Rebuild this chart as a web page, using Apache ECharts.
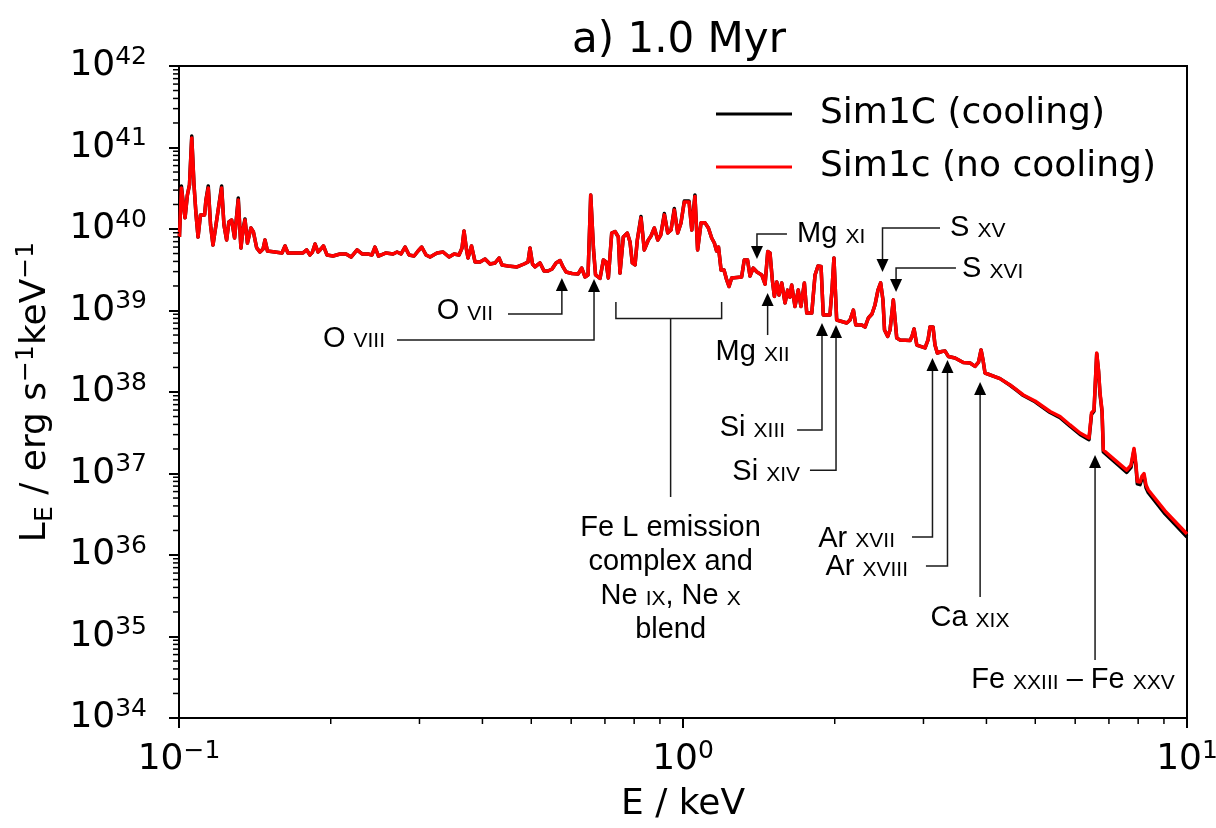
<!DOCTYPE html>
<html>
<head>
<meta charset="utf-8">
<title>a) 1.0 Myr</title>
<script src="https://cdn.jsdelivr.net/npm/echarts@6/dist/echarts.min.js"></script>
<style>
  html, body { margin: 0; padding: 0; background: #fff; }
  #chart { width: 1216px; height: 828px; }
</style>
</head>
<body>
<div id="chart"></div>
<script>
// Photon energy grid (keV)
const energyKeV = [
  0.1002,0.1011,0.1018,0.1028,0.1039,0.1049,0.1060,0.1071,0.1081,0.1091,
  0.1103,0.1124,0.1131,0.1143,0.1155,0.1168,0.1184,0.1200,0.1215,0.1228,
  0.1243,0.1256,0.1272,0.1289,0.1311,0.1327,0.1339,0.1352,0.1367,0.1389,
  0.1405,0.1426,0.1448,0.1468,0.1481,0.1498,0.1550,0.1601,0.1623,0.1645,
  0.1707,0.1762,0.1792,0.1819,0.1840,0.1862,0.1887,0.1905,0.1935,0.1966,
  0.2021,0.2087,0.2145,0.2195,0.2256,0.2308,0.2371,0.2415,0.2448,0.2488,
  0.2575,0.2659,0.2708,0.2758,0.2809,0.2861,0.2927,0.2981,0.3031,0.3092,
  0.3149,0.3251,0.3342,0.3434,0.3514,0.3594,0.3644,0.3677,0.3720,0.3745,
  0.3805,0.3867,0.3956,0.4048,0.4141,0.4237,0.4315,0.4375,0.4496,0.4685,
  0.4837,0.4926,0.4971,0.5028,0.5086,0.5204,0.5300,0.5398,0.5498,0.5599,
  0.5702,0.5781,0.5860,0.6023,0.6190,0.6296,0.6391,0.6480,0.6560,0.6645,
  0.6706,0.6845,0.6950,0.7036,0.7110,0.7221,0.7331,0.7442,0.7499,0.7613,
  0.7753,0.7850,0.7933,0.8031,0.8116,0.8254,0.8380,0.8535,0.8641,0.8772,
  0.8910,0.9033,0.9183,0.9325,0.9467,0.9610,0.9761,0.9909,1.006,1.028,
  1.041,1.056,1.069,1.086,1.106,1.123,1.140,1.154,1.166,1.176,
  1.190,1.206,1.221,1.234,1.249,1.307,1.323,1.343,1.358,1.378,
  1.402,1.433,1.455,1.473,1.488,1.504,1.518,1.535,1.550,1.570,
  1.594,1.613,1.630,1.643,1.668,1.693,1.714,1.741,1.760,1.801,
  1.828,1.853,1.879,1.898,1.957,1.975,1.993,2.018,2.065,2.113,
  2.145,2.178,2.202,2.263,2.297,2.332,2.371,2.404,2.437,2.467,
  2.493,2.511,2.548,2.575,2.614,2.655,2.696,2.822,2.848,2.874,
  2.910,3.022,3.063,3.091,3.134,3.162,3.196,3.261,3.311,3.361,
  3.465,3.599,3.711,3.797,3.858,3.903,3.938,3.974,4.256,4.455,
  4.593,4.734,4.994,5.349,5.599,5.860,6.134,6.391,6.465,6.539,
  6.620,6.675,6.721,6.783,6.823,7.197,7.592,7.743,7.850,7.922,
  7.969,8.068,8.142,8.217,8.292,8.380,9.044,10.0
];

// L_E (erg s^-1 keV^-1), run with radiative cooling
const lumCooling = [
  7.98e39,3.38e40,2.27e40,1.37e40,2.61e40,3.47e40,1.38e41,3.47e40,1.49e40,7.98e39,
  1.49e40,1.49e40,2.27e40,3.38e40,1.12e40,6.36e39,1.12e40,1.97e40,3.38e40,1.12e40,
  7.33e39,1.22e40,1.29e40,7.75e39,2.40e40,5.85e39,9.72e39,1.33e40,6.73e39,1.03e40,
  9.19e39,5.85e39,5.22e39,5.68e39,7.33e39,5.37e39,5.22e39,5.08e39,6.19e39,5.08e39,
  5.08e39,5.08e39,5.53e39,4.80e39,5.22e39,6.55e39,5.22e39,5.53e39,6.19e39,4.80e39,
  4.66e39,4.94e39,4.94e39,4.53e39,5.53e39,4.94e39,4.94e39,4.80e39,6.01e39,4.66e39,
  5.08e39,4.94e39,5.22e39,4.94e39,6.01e39,4.80e39,4.66e39,5.37e39,6.01e39,4.80e39,
  4.53e39,5.08e39,5.22e39,4.53e39,4.94e39,4.80e39,5.85e39,9.45e39,5.53e39,4.41e39,
  6.19e39,3.94e39,3.94e39,4.28e39,3.72e39,3.83e39,4.41e39,3.62e39,3.52e39,3.42e39,
  3.72e39,3.94e39,5.85e39,3.72e39,3.42e39,3.83e39,3.05e39,3.05e39,3.23e39,3.83e39,
  4.11e39,3.42e39,2.97e39,2.84e39,2.80e39,3.32e39,2.58e39,2.73e39,2.61e40,5.53e39,
  2.73e39,2.47e39,4.17e39,3.94e39,2.51e39,8.93e39,9.32e39,7.98e39,2.88e39,7.98e39,
  8.93e39,6.93e39,3.83e39,3.62e39,7.33e39,1.42e40,5.53e39,7.33e39,8.20e39,1.03e40,
  7.33e39,8.44e39,1.55e40,8.93e39,9.72e39,1.78e40,8.93e39,1.19e40,2.20e40,2.20e40,
  9.72e39,2.62e40,5.53e39,1.19e40,1.19e40,1.03e40,7.75e39,6.73e39,5.37e39,6.01e39,
  3.14e39,3.14e39,2.37e39,1.97e39,2.51e39,2.58e39,4.17e39,4.17e39,2.65e39,3.32e39,
  2.97e39,2.73e39,2.11e39,5.30e39,5.08e39,2.37e39,1.49e39,2.24e39,1.55e39,2.18e39,
  1.24e39,1.78e39,1.46e39,2.06e39,1.12e39,1.78e39,1.12e39,2.18e39,9.32e38,9.32e38,
  2.73e39,3.52e39,3.47e39,8.81e38,8.81e38,1.78e39,4.41e39,7.64e38,7.33e38,7.03e38,
  7.64e38,1.01e39,6.64e38,6.64e38,6.27e38,8.09e38,9.06e38,1.17e39,1.78e39,2.18e39,
  1.35e39,5.76e38,4.80e38,5.76e38,1.35e39,4.60e38,4.35e38,4.28e38,4.87e38,5.93e38,
  3.77e38,3.47e38,4.35e38,6.27e38,6.27e38,3.77e38,3.01e38,3.14e38,3.18e38,2.73e38,
  2.61e38,2.30e38,2.27e38,2.06e38,2.33e38,3.28e38,2.47e38,1.71e38,1.46e38,1.21e38,
  1.05e38,9.05e37,7.60e37,5.60e37,4.85e37,3.80e37,3.02e37,2.60e37,5.30e37,5.80e37,
  2.95e38,1.80e38,9.30e37,5.75e37,1.84e37,1.38e37,1.03e37,1.19e37,1.95e37,1.19e37,
  7.45e36,7.30e36,8.70e36,9.35e36,6.70e36,5.80e36,3.20e36,1.66e36
];

// L_E (erg s^-1 keV^-1), run without cooling
const lumNoCooling = [
  7.98e39,3.18e40,2.27e40,1.37e40,2.61e40,3.47e40,1.31e41,3.47e40,1.49e40,7.98e39,
  1.49e40,1.49e40,2.27e40,3.18e40,1.12e40,6.36e39,1.12e40,1.97e40,3.18e40,1.12e40,
  7.33e39,1.22e40,1.29e40,7.75e39,2.27e40,5.85e39,9.72e39,1.29e40,6.73e39,1.03e40,
  9.19e39,5.85e39,5.22e39,5.68e39,7.33e39,5.37e39,5.22e39,5.08e39,6.19e39,5.08e39,
  5.08e39,5.08e39,5.53e39,4.80e39,5.22e39,6.55e39,5.22e39,5.53e39,6.19e39,4.80e39,
  4.66e39,4.94e39,4.94e39,4.53e39,5.53e39,4.94e39,4.94e39,4.80e39,6.01e39,4.66e39,
  5.08e39,4.94e39,5.22e39,4.94e39,6.01e39,4.80e39,4.66e39,5.37e39,6.01e39,4.80e39,
  4.53e39,5.08e39,5.22e39,4.53e39,4.94e39,4.80e39,5.85e39,9.45e39,5.53e39,4.41e39,
  6.19e39,3.94e39,3.94e39,4.28e39,3.72e39,3.83e39,4.41e39,3.62e39,3.52e39,3.42e39,
  3.72e39,3.94e39,5.85e39,3.72e39,3.42e39,3.83e39,3.05e39,3.05e39,3.23e39,3.83e39,
  4.11e39,3.42e39,2.97e39,2.84e39,2.80e39,3.32e39,2.58e39,2.73e39,2.61e40,5.53e39,
  2.73e39,2.47e39,4.17e39,3.94e39,2.51e39,8.93e39,9.32e39,7.98e39,2.88e39,7.98e39,
  8.93e39,6.93e39,3.83e39,3.62e39,7.33e39,1.37e40,5.53e39,7.33e39,8.20e39,1.03e40,
  7.33e39,8.44e39,1.49e40,8.93e39,9.72e39,1.71e40,8.93e39,1.19e40,2.14e40,2.14e40,
  9.72e39,2.51e40,5.53e39,1.19e40,1.19e40,1.03e40,7.75e39,6.73e39,5.37e39,6.01e39,
  3.14e39,3.14e39,2.37e39,1.97e39,2.51e39,2.58e39,4.17e39,4.17e39,2.65e39,3.32e39,
  2.97e39,2.73e39,2.11e39,5.30e39,5.08e39,2.37e39,1.49e39,2.24e39,1.55e39,2.18e39,
  1.24e39,1.78e39,1.46e39,2.06e39,1.12e39,1.78e39,1.12e39,2.18e39,9.32e38,9.32e38,
  2.73e39,3.52e39,3.47e39,8.81e38,8.81e38,1.78e39,4.41e39,7.64e38,7.33e38,7.03e38,
  7.64e38,1.01e39,6.64e38,6.64e38,6.27e38,8.09e38,9.06e38,1.17e39,1.78e39,2.18e39,
  1.35e39,5.76e38,4.80e38,5.76e38,1.35e39,4.60e38,4.35e38,4.28e38,4.87e38,5.93e38,
  3.77e38,3.47e38,4.35e38,6.27e38,6.27e38,3.77e38,3.01e38,3.14e38,3.18e38,2.73e38,
  2.61e38,2.30e38,2.27e38,2.06e38,2.33e38,3.28e38,2.47e38,1.71e38,1.46e38,1.22e38,
  1.06e38,9.19e37,7.75e37,5.76e37,5.00e37,3.94e37,3.14e37,2.73e37,5.53e37,6.01e37,
  3.01e38,1.86e38,9.72e37,6.01e37,1.94e37,1.46e37,1.10e37,1.27e37,2.03e37,1.27e37,
  7.98e36,7.86e36,9.32e36,1.00e37,7.23e36,6.27e36,3.47e36,1.81e36
];

const seriesNames = ['Sim1C (cooling)', 'Sim1c (no cooling)'];

// Axis ranges and major tick exponents
const xRange = [0.1, 10];
const yRange = [1e34, 1e42];
const xTickExponents = ['\u22121', '0', '1'];
const yTickExponents = ['34', '35', '36', '37', '38', '39', '40', '41', '42'];

// Emission-line identifications: arrow tip, leader path and label anchor (keV, L_E)
const lineMarkers = [
  { text: '{e|O }{i|VII}',  tip: [0.575, 2.51e39], leader: [[0.575, 9.06e38], [0.4495, 9.06e38]], label: [0.4198, 9.8e38], align: 'right' },
  { text: '{e|O }{i|VIII}', tip: [0.666, 2.44e39], leader: [[0.666, 4.35e38], [0.2707, 4.35e38]], label: [0.2563, 4.53e38], align: 'right' },
  { text: '{e|Mg }{i|XI}',  tip: [1.402, 4.29e39], leader: [[1.402, 8.69e39], [1.608, 8.69e39]], label: [1.684, 8.69e39], align: 'left' },
  { text: '{e|Mg }{i|XII}', tip: [1.472, 1.64e39], leader: [[1.472, 5.0e38]], label: [1.374, 3.1e38], align: 'center' },
  { text: '{e|Si }{i|XIII}', tip: [1.887, 7.03e38], leader: [[1.887, 3.42e37], [1.684, 3.42e37]], label: [1.594, 3.61e37], align: 'right' },
  { text: '{e|Si }{i|XIV}', tip: [2.012, 6.64e38], leader: [[2.012, 1.10e37], [1.786, 1.10e37]], label: [1.707, 1.05e37], align: 'right' },
  { text: '{e|S }{i|XV}',   tip: [2.488, 2.97e39], leader: [[2.488, 1.03e40], [3.236, 1.03e40]], label: [3.388, 1.03e40], align: 'left' },
  { text: '{e|S }{i|XVI}',  tip: [2.647, 1.69e39], leader: [[2.647, 3.32e39], [3.48, 3.32e39]], label: [3.578, 3.23e39], align: 'left' },
  { text: '{e|Ar }{i|XVII}', tip: [3.126, 2.61e38], leader: [[3.126, 1.66e36], [2.847, 1.66e36]], label: [2.634, 1.59e36], align: 'right' },
  { text: '{e|Ar }{i|XVIII}', tip: [3.348, 2.47e38], leader: [[3.348, 7.33e35], [3.034, 7.33e35]], label: [2.795, 7.13e35], align: 'right' },
  { text: '{e|Ca }{i|XIX}', tip: [3.886, 1.33e38], leader: [[3.886, 3.06e35]], label: [3.71, 1.69e35], align: 'center' },
  { text: '{e|Fe }{i|XXIII}{e| \u2013 Fe }{i|XXV}', tip: [6.57, 1.69e37], leader: [[6.57, 5.15e34]], label: [5.94, 2.92e34], align: 'center' }
];

// Bracket marking the Fe L / Ne blend (keV, L_E)
const feLBlend = {
  from: 0.736, to: 1.193, top: 1.27e39, bar: 7.98e38,
  stemAt: 0.945, stemEnd: 5.15e36, label: [0.945, 3.47e36],
  text: '{e|Fe L emission}\n{e|complex and}\n{e|Ne }{i|IX}{e|, Ne }{i|X}\n{e|blend}'
};

// Minor tick positions for the log axes (2..9 of each decade)
const xMinorTicks = [];
[0.1, 1].forEach(d => { for (let k = 2; k <= 9; k++) xMinorTicks.push(+(k * d).toPrecision(3)); });
const yMinorTicks = [];
for (let p = 34; p < 42; p++) { for (let k = 2; k <= 9; k++) yMinorTicks.push(k * Math.pow(10, p)); }

const AXIS_FONT = 'DejaVu Sans';
const NOTE_FONT = 'Liberation Sans';

// Element symbol in regular size, ionisation stage in small capitals on the same baseline
const annotationRich = {
  e: { fontFamily: NOTE_FONT, fontSize: 29, lineHeight: 34, fill: '#000' },
  i: { fontFamily: NOTE_FONT, fontSize: 21, height: 28, verticalAlign: 'bottom', fill: '#000' }
};

const tickRich = {
  b: { fontFamily: AXIS_FONT, fontSize: 36, lineHeight: 40, color: '#000' },
  s: { fontFamily: AXIS_FONT, fontSize: 25, height: 22, verticalAlign: 'top', color: '#000' }
};

function tickLabel(value, exps, lo) {
  const idx = Math.round(Math.log10(value)) - lo;
  const e = exps[idx];
  return e === undefined ? '' : '{b|10}{s|' + e + '}';
}

const HEAD_LEN = 13, HEAD_HALF = 6;
const LEADER = { stroke: '#1a1a1a', lineWidth: 1.5, fill: 'none' };

function renderMarker(params, api) {
  const idx = api.value(2);
  if (idx < 0) {
    const b = feLBlend;
    const lt = api.coord([b.from, b.top]), lb = api.coord([b.from, b.bar]);
    const rb = api.coord([b.to, b.bar]), rt = api.coord([b.to, b.top]);
    const s0 = api.coord([b.stemAt, b.bar]), s1 = api.coord([b.stemAt, b.stemEnd]);
    const lab = api.coord(b.label);
    return {
      type: 'group',
      children: [
        { type: 'polyline', shape: { points: [lt, lb, rb, rt] }, style: LEADER },
        { type: 'line', shape: { x1: s0[0], y1: s0[1], x2: s1[0], y2: s1[1] }, style: LEADER },
        { type: 'text', x: lab[0], y: lab[1], style: { text: b.text, rich: annotationRich, align: 'center', verticalAlign: 'top', fill: '#000' } }
      ]
    };
  }
  const m = lineMarkers[idx];
  const tip = api.coord(m.tip);
  const pts = m.leader.map(p => api.coord(p));
  const dx = tip[0] - pts[0][0], dy = tip[1] - pts[0][1];
  const len = Math.hypot(dx, dy) || 1;
  const ux = dx / len, uy = dy / len;
  const bx = tip[0] - ux * HEAD_LEN, by = tip[1] - uy * HEAD_LEN;
  const nx = -uy, ny = ux;
  const lab = api.coord(m.label);
  return {
    type: 'group',
    children: [
      { type: 'polyline', shape: { points: [[bx, by]].concat(pts) }, style: LEADER },
      { type: 'polygon', shape: { points: [tip, [bx + nx * HEAD_HALF, by + ny * HEAD_HALF], [bx - nx * HEAD_HALF, by - ny * HEAD_HALF]] }, style: { fill: '#000' } },
      { type: 'text', x: lab[0], y: lab[1], style: { text: m.text, rich: annotationRich, align: m.align, verticalAlign: 'middle', fill: '#000' } }
    ]
  };
}

const chart = echarts.init(document.getElementById('chart'));

chart.setOption({
  animation: false,
  backgroundColor: '#fff',
  title: {
    text: 'a) 1.0 Myr',
    left: 572, top: 16, padding: 0,
    textStyle: { fontFamily: AXIS_FONT, fontSize: 42, fontWeight: 'normal', color: '#000', lineHeight: 50 }
  },
  legend: {
    orient: 'vertical', left: 716, top: 93, padding: 0,
    itemWidth: 76, itemHeight: 3, itemGap: 11, icon: 'rect',
    selectedMode: false,
    data: seriesNames,
    textStyle: { fontFamily: AXIS_FONT, fontSize: 36, color: '#000', lineHeight: 42, padding: [0, 0, 0, 23] }
  },
  grid: {
    left: 179, right: 29, top: 66, bottom: 110,
    show: true, borderColor: '#000', borderWidth: 2,
    containLabel: false, outerBoundsMode: 'none'
  },
  xAxis: {
    type: 'log', logBase: 10, min: xRange[0], max: xRange[1],
    name: 'E / keV', nameLocation: 'middle', nameGap: 60,
    nameTextStyle: { fontFamily: AXIS_FONT, fontSize: 36, color: '#000', lineHeight: 44 },
    axisLine: { show: true, lineStyle: { color: '#000', width: 2 } },
    axisTick: { show: true, length: 10, lineStyle: { color: '#000', width: 2 } },
    minorTick: { show: false },
    splitLine: { show: false },
    axisLabel: {
      margin: 22,
      formatter: v => tickLabel(v, xTickExponents, -1),
      rich: tickRich
    }
  },
  yAxis: {
    type: 'log', logBase: 10, min: yRange[0], max: yRange[1],
    name: '{m|L}{sub|E}{m| / erg s}{sup|\u22121}{m|keV}{sup|\u22121}',
    nameLocation: 'middle', nameGap: 121, nameRotate: 90,
    nameTextStyle: {
      fontFamily: AXIS_FONT, fontSize: 36, color: '#000',
      rich: {
        m: { fontFamily: AXIS_FONT, fontSize: 36, lineHeight: 44, color: '#000' },
        sub: { fontFamily: AXIS_FONT, fontSize: 25, lineHeight: 24, verticalAlign: 'bottom', color: '#000' },
        sup: { fontFamily: AXIS_FONT, fontSize: 25, lineHeight: 26, verticalAlign: 'top', color: '#000' }
      }
    },
    axisLine: { show: true, lineStyle: { color: '#000', width: 2 } },
    axisTick: { show: true, length: 10, lineStyle: { color: '#000', width: 2 } },
    minorTick: { show: false },
    splitLine: { show: false },
    axisLabel: {
      margin: 32,
      formatter: v => tickLabel(v, yTickExponents, 34),
      rich: tickRich
    }
  },
  series: [
    {
      name: seriesNames[0], type: 'line', symbol: 'none', silent: true, z: 2,
      data: energyKeV.map((e, i) => [e, lumCooling[i]]),
      lineStyle: { color: '#000', width: 3.5, join: 'round' },
      itemStyle: { color: '#000' }
    },
    {
      name: seriesNames[1], type: 'line', symbol: 'none', silent: true, z: 3,
      data: energyKeV.map((e, i) => [e, lumNoCooling[i]]),
      lineStyle: { color: '#ff0000', width: 3.5, join: 'round' },
      itemStyle: { color: '#ff0000' }
    },
    {
      type: 'custom', silent: true, clip: false, z: 6,
      data: xMinorTicks.map(v => [v, yRange[0]]),
      renderItem: (params, api) => {
        const p = api.coord([api.value(0), api.value(1)]);
        return { type: 'line', shape: { x1: p[0], y1: p[1], x2: p[0], y2: p[1] + 6 }, style: { stroke: '#000', lineWidth: 1.5 } };
      }
    },
    {
      type: 'custom', silent: true, clip: false, z: 6,
      data: yMinorTicks.map(v => [xRange[0], v]),
      renderItem: (params, api) => {
        const p = api.coord([api.value(0), api.value(1)]);
        return { type: 'line', shape: { x1: p[0], y1: p[1], x2: p[0] - 6, y2: p[1] }, style: { stroke: '#000', lineWidth: 1.5 } };
      }
    },
    {
      type: 'custom', silent: true, clip: false, z: 5,
      data: lineMarkers.map((m, i) => [m.tip[0], m.tip[1], i]).concat([[feLBlend.stemAt, feLBlend.bar, -1]]),
      renderItem: renderMarker
    }
  ]
});
</script>
</body>
</html>
